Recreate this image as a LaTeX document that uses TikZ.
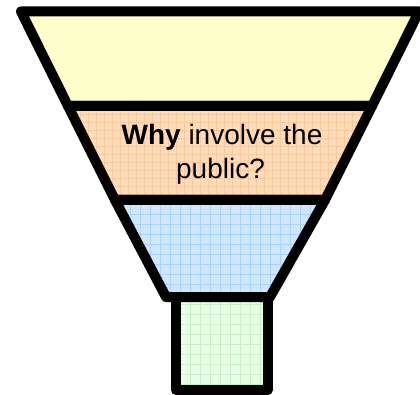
\documentclass[tikz,border=0pt]{standalone}
\usepackage{fontspec}
\setmainfont{Liberation Sans}
\definecolor{bandA}{HTML}{FFFFCC}
\definecolor{bandB}{HTML}{FFDDBB}
\definecolor{bandBgrid}{HTML}{F9C89C}
\definecolor{bandC}{HTML}{CFE6FF}
\definecolor{bandCgrid}{HTML}{A9D2FF}
\definecolor{bandD}{HTML}{E6FFE6}
\definecolor{bandDgrid}{HTML}{C6F0C6}
\tikzset{
  outline/.style={draw=black, line width=10pt, line join=round},
  label/.style={font=\fontsize{28}{34}\selectfont, inner sep=0pt, anchor=base, text=black},
}
\begin{document}
\begin{tikzpicture}[x=1pt,y=1pt]
\useasboundingbox (0,0) rectangle (420,394);
% coordinates (image y measured from top -> 394 - y)
\coordinate (a1) at (21,382.5);
\coordinate (a2) at (419,382.5);
\coordinate (b2) at (372,288);
\coordinate (b1) at (68,288);
\coordinate (c2) at (325,194);
\coordinate (c1) at (115,194);
\coordinate (d2) at (270,97);
\coordinate (d1) at (166,97);
\coordinate (r1) at (176,97);
\coordinate (r2) at (267.5,97);
\coordinate (r3) at (267.5,4);
\coordinate (r4) at (176,4);
% fills
\fill[bandA] (a1) -- (a2) -- (b2) -- (b1) -- cycle;
\begin{scope}
  \clip (b1) -- (b2) -- (c2) -- (c1) -- cycle;
  \fill[bandB] (60,190) rectangle (380,290);
  \draw[bandBgrid, line width=0.6pt, step=8pt] (60,190) grid (380,290);
\end{scope}
\begin{scope}
  \clip (c1) -- (c2) -- (d2) -- (d1) -- cycle;
  \fill[bandC] (110,90) rectangle (330,200);
  \draw[bandCgrid, line width=0.7pt, step=10pt] (110,90) grid (330,200);
\end{scope}
\begin{scope}
  \clip (r1) -- (r2) -- (r3) -- (r4) -- cycle;
  \fill[bandD] (170,0) rectangle (275,100);
  \draw[bandDgrid, line width=0.6pt, step=10pt] (170,0) grid (275,100);
\end{scope}
% outlines
\draw[outline] (a1) -- (a2) -- (b2) -- (b1) -- cycle;
\draw[outline] (b1) -- (b2) -- (c2) -- (c1) -- cycle;
\draw[outline] (c1) -- (c2) -- (d2) -- (d1) -- cycle;
\draw[outline] (r1) -- (r2) -- (r3) -- (r4) -- cycle;
% text
\node[label] (t1) at (222,249) {\textbf{Why} involve the};
\node[label] (t2) at (220.5,215) {public?};
\end{tikzpicture}
\end{document}
